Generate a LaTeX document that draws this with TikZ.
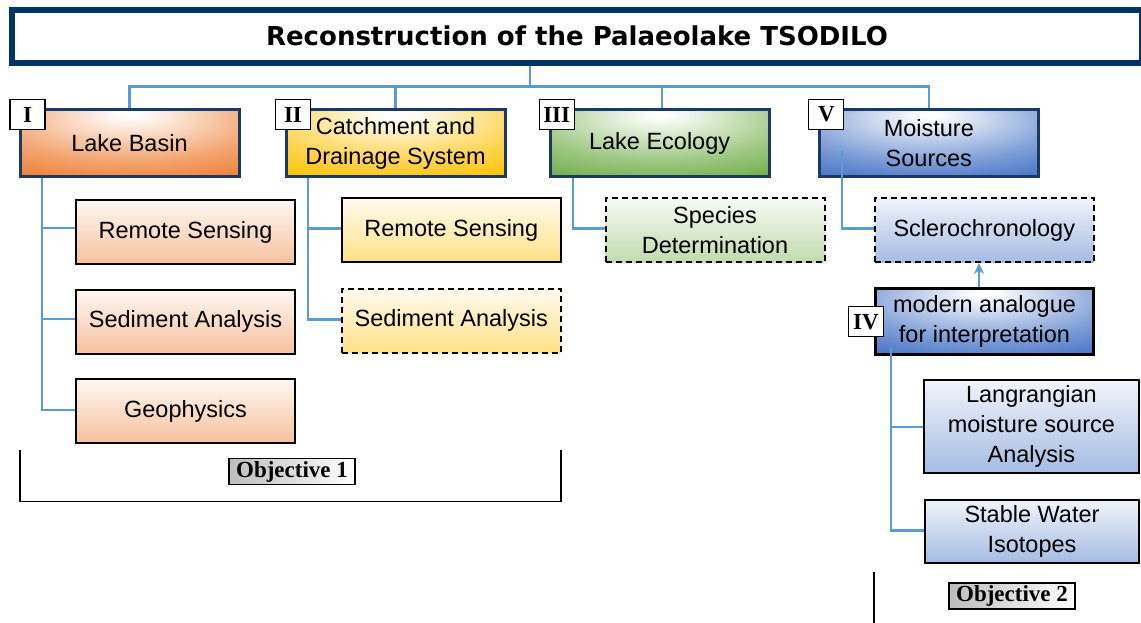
\documentclass[tikz,border=0pt]{standalone}
\usepackage{fontspec}
\setmainfont{Liberation Sans}
\newfontfamily\titlefont{DejaVu Sans}
\newfontfamily\numfont{Liberation Serif}
\usetikzlibrary{arrows.meta}

% palette
\definecolor{navy}{RGB}{0,51,102}
\definecolor{boxnavy}{RGB}{25,58,105}
\definecolor{wire}{RGB}{91,155,213}
\definecolor{accOrange}{RGB}{237,125,49}
\definecolor{accGold}{RGB}{255,192,0}
\definecolor{accGreen}{RGB}{112,173,71}
\definecolor{accBlue}{RGB}{68,114,196}

% white glow near the top middle, theme colour towards the edges
\pgfdeclareradialshading{glowOrange}{\pgfpoint{0bp}{22bp}}{color(0bp)=(white); color(2bp)=(white); color(30bp)=(accOrange!70); color(46bp)=(accOrange); color(110bp)=(accOrange)}
\pgfdeclareradialshading{glowGold}{\pgfpoint{0bp}{22bp}}{color(0bp)=(white); color(2bp)=(white); color(30bp)=(accGold!70); color(46bp)=(accGold); color(110bp)=(accGold)}
\pgfdeclareradialshading{glowGreen}{\pgfpoint{0bp}{22bp}}{color(0bp)=(white); color(2bp)=(white); color(30bp)=(accGreen!70); color(46bp)=(accGreen); color(110bp)=(accGreen)}
\pgfdeclareradialshading{glowBlue}{\pgfpoint{0bp}{22bp}}{color(0bp)=(white); color(2bp)=(white); color(30bp)=(accBlue!70); color(46bp)=(accBlue); color(110bp)=(accBlue)}

\begin{document}
\begin{tikzpicture}[x=1pt,y=-1pt,
  txt/.style={align=center,font=\fontsize{23.5}{30}\selectfont,inner sep=0pt},
  mainbox/.style={txt,draw=boxnavy,line width=3pt,minimum width=219pt,minimum height=67pt},
  subbox/.style={txt,draw=black,line width=2pt,minimum width=219pt,minimum height=64pt},
  dashbox/.style={subbox,dash pattern=on 6pt off 4pt},
  orangesub/.style={top color=accOrange!6,bottom color=accOrange!48},
  goldsub/.style={top color=accGold!6,bottom color=accGold!48},
  greensub/.style={top color=accGreen!6,bottom color=accGreen!44},
  bluesub/.style={top color=accBlue!8,bottom color=accBlue!48},
  numtag/.style={draw=black,line width=1.3pt,fill=white,minimum width=35pt,minimum height=30pt,
    inner sep=0pt,font=\numfont\bfseries\fontsize{23}{23}\selectfont},
  goal/.style={draw=black,line width=1.5pt,left color=black!26,right color=white,
    minimum width=126pt,minimum height=26pt,inner sep=0pt,
    font=\numfont\bfseries\fontsize{23}{23}\selectfont},
  conn/.style={draw=wire,line width=2.2pt},
  bracket/.style={draw=black,line width=1.5pt}
]
\useasboundingbox (0,0) rectangle (1141,623);
\clip (0,0) rectangle (1141,623);

% title bar
\node[draw=navy,line width=6pt,minimum width=1130pt,minimum height=53.3pt,inner sep=0pt,
  font=\titlefont\bfseries\fontsize{26}{26}\selectfont] (title) at (577,36.3)
  {Reconstruction of the Palaeolake TSODILO};

% first level
\node[mainbox,shading=glowOrange] (lb) at (129.5,143) {Lake Basin};
\node[mainbox,shading=glowGold] (cd) at (395.5,143) {Catchment and\\Drainage System};
\node[mainbox,shading=glowGreen] (le) at (659.6,143.3) {Lake Ecology};
\node[mainbox,shading=glowBlue] (ms) at (928.8,143.3) {Moisture\\Sources};

% second level
\node[subbox,orangesub] (lb1) at (185.5,232.3) {Remote Sensing};
\node[subbox,orangesub] (lb2) at (185.5,321.8) {Sediment Analysis};
\node[subbox,orangesub] (lb3) at (185.5,411) {Geophysics};
\node[subbox,goldsub] (cd1) at (451.3,230) {Remote Sensing};
\node[dashbox,goldsub] (cd2) at (451.3,320.5) {Sediment Analysis};
\node[dashbox,greensub] (le1) at (715,230) {Species\\Determination};
\node[dashbox,bluesub] (ms1) at (984.3,230) {Sclerochronology};
\node[subbox,shading=glowBlue,line width=2.5pt,minimum width=218pt,minimum height=66pt] (iv) at (984.5,321.7)
  {modern analogue\\for interpretation};
\node[subbox,bluesub,minimum width=215pt,minimum height=93pt] (ms2) at (1031.4,426.8)
  {Langrangian\\moisture source\\Analysis};
\node[subbox,bluesub,minimum width=214pt,minimum height=63.6pt] (ms3) at (1032,531.5)
  {Stable Water\\Isotopes};

% numbering tags
\node[numtag] (tI) at (27.5,114.5) {I};
\node[numtag] (tII) at (293,114.5) {II};
\node[numtag] (tIII) at (556.7,114.5) {III};
\node[numtag] (tV) at (826.3,114.5) {V};
\node[numtag] (tIV) at (866,321.7) {IV};

% tree from the title
\coordinate (hub) at (530,86.5);
\coordinate (leX) at (662.3,0);
\draw[conn] (hub |- title.south) -- (hub);
\draw[conn] (lb.north) |- (ms.north |- hub) -- (ms.north);
\draw[conn] (cd.north) -- (cd.north |- hub);
\draw[conn] (le.north -| leX) -- (hub -| leX);

% branches to the methods
\coordinate (bI) at (42.3,0);
\coordinate (bII) at (308.3,0);
\coordinate (bIII) at (572.7,0);
\coordinate (bVstart) at (842.3,151);
\coordinate (bIVstart) at (890.7,346.7);
\draw[conn] (lb.south -| bI) |- ([yshift=1pt]lb3.west);
\draw[conn] ([yshift=4pt]lb1.west -| bI) -- ([yshift=4pt]lb1.west);
\draw[conn] ([yshift=2.5pt]lb2.west -| bI) -- ([yshift=2.5pt]lb2.west);
\draw[conn] (cd.south -| bII) |- ([yshift=1pt]cd2.west);
\draw[conn] ([yshift=1.5pt]cd1.west -| bII) -- ([yshift=1.5pt]cd1.west);
\draw[conn] (le.south -| bIII) |- ([yshift=1.5pt]le1.west);
\draw[conn] (bVstart) |- ([yshift=1.5pt]ms1.west);
\draw[conn] (bIVstart) |- ([yshift=1pt]ms3.west);
\draw[conn] (ms2.west -| bIVstart) -- (ms2.west);

% modern analogue feeds the interpretation
\coordinate (arX) at (979,0);
\draw[conn,-{Stealth[length=11pt,width=10pt]}] (iv.north -| arX) -- (ms1.south -| arX);

% objective brackets
\draw[bracket] (20,450) -- (20,501.5) -- (561,501.5) -- (561,450);
\draw[bracket] (874,572) -- (874,623);
\node[goal] (g1) at (292,471.7) {Objective 1};
\node[goal] (g2) at (1012,596) {Objective 2};
\end{tikzpicture}
\end{document}
